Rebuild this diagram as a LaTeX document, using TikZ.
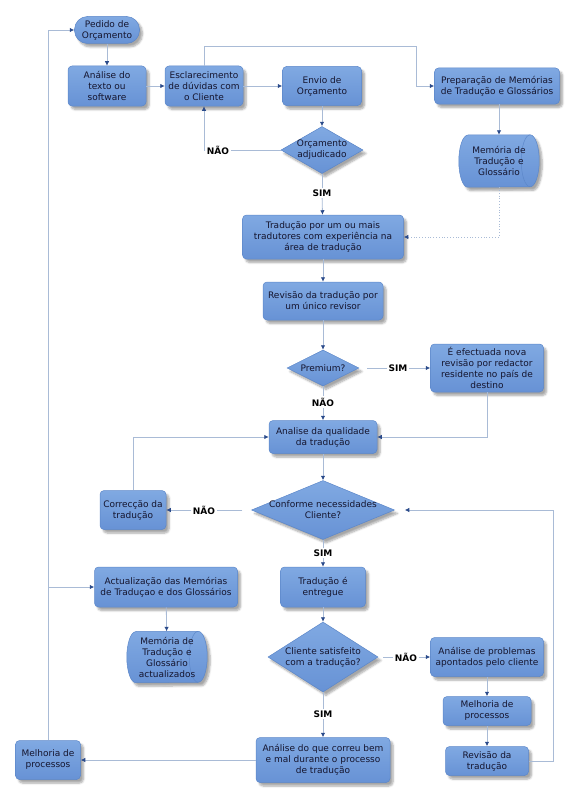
\documentclass[tikz,border=0pt]{standalone}
\usepackage{fontspec}
\setmainfont{DejaVu Sans}
\usetikzlibrary{shapes.geometric,arrows.meta,shadows.blur,backgrounds}
\definecolor{boxtop}{HTML}{80A9E2}
\definecolor{boxbot}{HTML}{6792D5}
\definecolor{boxedge}{HTML}{5C87C9}
\definecolor{txt}{HTML}{15152E}
\definecolor{lnc}{HTML}{A9BBD6}
\definecolor{arc}{HTML}{2A4A8A}
\tikzset{
  softshadow/.style={blur shadow={shadow xshift=3pt,shadow yshift=-3.5pt,shadow blur steps=6,shadow blur radius=2pt,shadow opacity=35}},
  basefont/.style={text=txt,font=\fontsize{9}{11}\selectfont,align=center},
  bluefill/.style={draw=boxedge,line width=0.5pt,top color=boxtop,bottom color=boxbot},
  base/.style={softshadow,bluefill,basefont,inner sep=1pt},
  box/.style={base,rectangle,rounded corners=4pt},
  pill/.style={base,rectangle,rounded corners=13pt},
  dec/.style={base,diamond,inner sep=0pt},
  store/.style={rectangle,basefont,inner sep=0pt},
  storeshape/.style={softshadow,bluefill},
  dtext/.style={basefont,inner sep=0pt},
  lbl/.style={fill=white,font=\bfseries\fontsize{9}{11}\selectfont,text=black,inner sep=1.5pt},
  line/.style={draw=lnc,line width=0.8pt},
  conn/.style={line,-{Latex[length=4.5pt,width=4.5pt,color=arc]}},
}
\newcommand{\storedraw}[2]{% node name, half height
  \path[storeshape] ([xshift=9pt]#1.north west) -- ([xshift=-9pt]#1.north east)
    arc[start angle=90,end angle=-90,x radius=9pt,y radius=#2]
    -- ([xshift=9pt]#1.south west)
    arc[start angle=270,end angle=90,x radius=9pt,y radius=#2] -- cycle;
  \draw[draw=boxedge,line width=0.5pt] ([xshift=-9pt]#1.north east)
    arc[start angle=90,end angle=270,x radius=9pt,y radius=#2];
}
\begin{document}
\begin{tikzpicture}[x=1pt,y=-1pt]
\useasboundingbox (0,0) rectangle (578,800);
% nodes
\node[pill,minimum width=65pt,minimum height=27pt] (pedido) at (107,30) {Pedido de\\Orçamento};
\node[box,minimum width=78pt,minimum height=40pt] (analise) at (107,86) {Análise do\\texto ou\\software};
\node[box,minimum width=78pt,minimum height=40pt] (escl) at (204,86) {Esclarecimento\\de dúvidas com\\o Cliente};
\node[box,minimum width=79pt,minimum height=39pt] (envio) at (322,86) {Envio de\\Orçamento};
\node[box,minimum width=125pt,minimum height=36pt] (prep) at (497,86) {Preparação de Memórias\\de Tradução e Glossários};
\node[store,minimum width=80pt,minimum height=52pt] (mem1) at (499,161) {Memória de\\Tradução e\\Glossário};
\node[dec,minimum width=82pt,minimum height=47pt] (orc) at (322,150) {};
\node[dtext] (orct) at (orc) {Orçamento\\adjudicado};
\node[box,minimum width=161pt,minimum height=44pt] (trad) at (323,237) {Tradução por um ou mais\\tradutores com experiência na\\área de tradução};
\node[box,minimum width=120pt,minimum height=38pt] (rev) at (323,301) {Revisão da tradução por\\um único revisor};
\node[dec,minimum width=72pt,minimum height=36pt] (prem) at (323,368) {};
\node[dtext] (premt) at (prem) {Premium?};
\node[box,minimum width=113pt,minimum height=48pt] (efect) at (487,368) {É efectuada nova\\revisão por redactor\\residente no país de\\destino};
\node[box,minimum width=108pt,minimum height=33pt] (anq) at (323,437) {Analise da qualidade\\da tradução};
\node[dec,minimum width=143pt,minimum height=59pt] (conf) at (323,510) {};
\node[dtext] (conft) at (conf) {Conforme necessidades\\Cliente?};
\node[box,minimum width=66pt,minimum height=39pt] (corr) at (133,510) {Correcção da\\tradução};
\node[box,minimum width=85pt,minimum height=40pt] (entr) at (323,587) {Tradução é\\entregue};
\node[box,minimum width=143pt,minimum height=40pt] (actu) at (166,587) {Actualização das Memórias\\de Traduçao e dos Glossários};
\node[store,minimum width=80pt,minimum height=51pt] (mem2) at (167,657) {Memória de\\Tradução e\\Glossário\\actualizados};
\node[dec,minimum width=110pt,minimum height=70pt] (cli) at (323,657) {};
\node[dtext] (clit) at (cli) {Cliente satisfeito\\com a tradução?};
\node[box,minimum width=113pt,minimum height=39pt] (aprob) at (487,657) {Análise de problemas\\apontados pelo cliente};
\node[box,minimum width=88pt,minimum height=29pt] (melr) at (487,711) {Melhoria de\\processos};
\node[box,minimum width=83pt,minimum height=29pt] (revt) at (487,761) {Revisão da\\tradução};
\node[box,minimum width=134pt,minimum height=45pt] (acor) at (323,760) {Análise do que correu bem\\e mal durante o processo\\de tradução};
\node[box,minimum width=65pt,minimum height=39pt] (mell) at (48,760) {Melhoria de\\processos};
% storage shapes behind their texts
\begin{pgfonlayer}{background}
\storedraw{mem1}{26pt}
\storedraw{mem2}{25.5pt}
\end{pgfonlayer}
% labels
\node[lbl] (nao1) at (218,150) {NÃO};
\node[lbl] (sim1) at (322,193) {SIM};
\node[lbl] (sim2) at (398,368) {SIM};
\node[lbl] (nao2) at (323,402) {NÃO};
\node[lbl] (nao3) at (204,510) {NÃO};
\node[lbl] (sim3) at (323,553) {SIM};
\node[lbl] (nao4) at (406,657) {NÃO};
\node[lbl] (sim4) at (323,714) {SIM};
\coordinate (c1) at (416,46);
\coordinate (c2) at (553,761);
% connectors
\draw[conn] (pedido) -- (analise);
\draw[conn] (analise) -- (escl);
\draw[conn] (escl) -- (envio);
\draw[conn] (escl.north) |- (c1) |- (prep.west);
\draw[conn] (envio) -- (orc);
\draw[line] (orc.west) -- (nao1.east);
\draw[conn] (nao1.west) -| (escl.south);
\draw[line] (orc) -- (sim1);
\draw[conn] (sim1) -- (trad);
\draw[conn] (prep.south -| mem1.north) -- (mem1.north);
\draw[conn,dotted] (mem1.south) |- (trad.east);
\draw[conn] (trad) -- (rev);
\draw[conn] (rev) -- (prem);
\draw[line,shorten <=8pt] (prem.east) -- (sim2.west);
\draw[conn] (sim2) -- (efect);
\draw[line] (prem) -- (nao2);
\draw[conn] (nao2) -- (anq);
\draw[conn] (efect.south) |- (anq.east);
\draw[conn] (anq) -- (conf);
\draw[line,shorten <=9pt] (conf.west) -- (nao3.east);
\draw[conn] (nao3) -- (corr);
\draw[conn] (corr.north) |- (anq.west);
\draw[line] (conf) -- (sim3);
\draw[conn] (sim3) -- (entr);
\draw[conn] (entr) -- (cli);
\draw[line,shorten <=5pt] (cli.east) -- (nao4.west);
\draw[conn] (nao4) -- (aprob);
\draw[conn] (aprob) -- (melr);
\draw[conn] (melr) -- (revt);
\draw[conn,shorten >=10pt] (revt.east) -- (c2) |- (conf.east);
\draw[line] (cli) -- (sim4);
\draw[conn] (sim4) -- (acor);
\draw[conn] (acor) -- (mell);
\draw[conn] (mell.north) |- (pedido.west);
\draw[conn] (mell.north) |- (actu.west);
\draw[conn] (actu) -- (mem2);
\end{tikzpicture}
\end{document}
